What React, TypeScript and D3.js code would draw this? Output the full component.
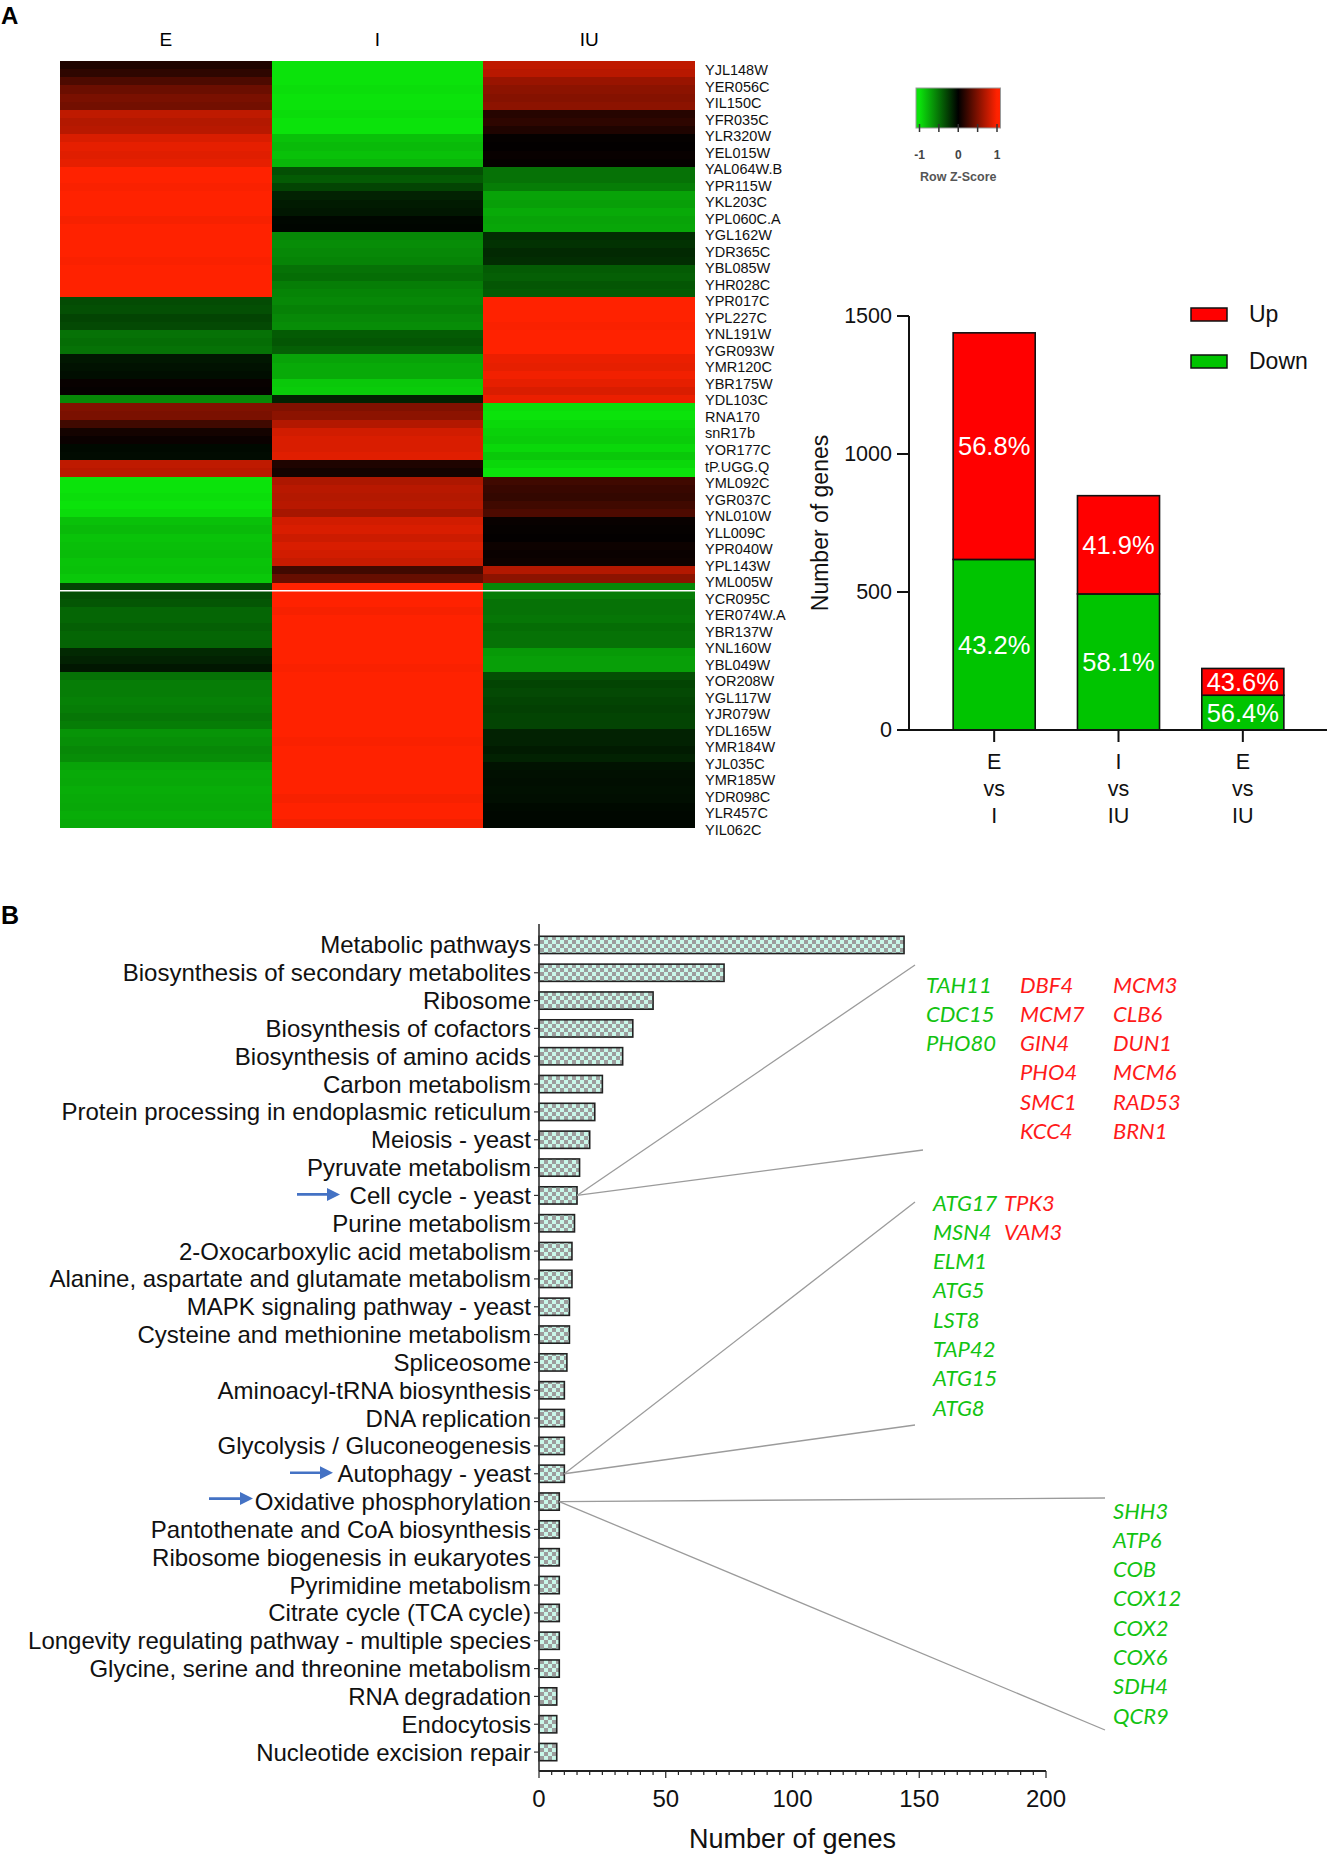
import React from 'react';
import * as d3 from 'd3';

// ---------- Panel A: heatmap ----------
const heatColumns = ['E', 'I', 'IU'];
const zE = [
  0.12, 0.18, 0.3, 0.42, 0.48, 0.45, 0.75, 0.7, 0.72, 0.85, 0.9, 0.88, 0.9,
  1, 1, 0.98, 1, 1, 1, 0.97, 1, 1, 1, 1, 0.98, 1, 1, 1, 1,
  -0.33, -0.35, -0.3, -0.32, -0.5, -0.48, -0.5, -0.1, -0.08, -0.06, 0.03, 0.02, -0.6,
  0.5, 0.48, 0.25, 0.08, 0.04, -0.04, -0.05, 0.75, 0.72,
  -1, -1, -0.98, -1, -0.97, -0.85, -0.82, -0.86, -0.84, -0.83, -0.86, -0.85, -0.88, -0.3,
  -0.35, -0.38, -0.45, -0.45, -0.42, -0.45, -0.44, -0.18, -0.15, -0.1,
  -0.5, -0.55, -0.55, -0.57, -0.55, -0.52, -0.55, -0.65, -0.63, -0.6, -0.62,
  -0.72, -0.75, -0.74, -0.76, -0.75, -0.74, -0.76, -0.75,
];
const zI = [
  -1, -1, -1, -0.98, -1, -1, -0.97, -1, -1, -0.85, -0.82, -0.85, -0.8,
  -0.35, -0.4, -0.3, -0.15, -0.12, -0.1, -0.03, -0.02, -0.6, -0.62, -0.6, -0.58,
  -0.5, -0.48, -0.55, -0.58, -0.6, -0.57, -0.6, -0.62, -0.4, -0.38, -0.42,
  -0.72, -0.75, -0.75, -0.88, -0.9, -0.15, 0.5, 0.55, 0.7, 0.82, 0.85, 0.85, 0.88,
  0.12, 0.08, 0.68, 0.72, 0.7, 0.72, 0.65, 0.82, 0.85, 0.8, 0.85, 0.82, 0.78, 0.25, 0.4,
  1, 1, 1, 0.97, 1, 1, 1, 1, 1, 1, 0.98, 1, 1, 1, 1,
  1, 1, 1, 1, 0.98, 1, 1, 1, 1, 1, 1, 0.97, 1, 1, 0.96,
];
const zIU = [
  0.75, 0.72, 0.6, 0.55, 0.52, 0.55, 0.15, 0.18, 0.12, 0.02, 0.01, 0.03, 0.02,
  -0.5, -0.5, -0.55, -0.72, -0.7, -0.75, -0.72, -0.73, -0.2, -0.22, -0.18, -0.2,
  -0.4, -0.42, -0.38, -0.4, 1, 1, 1, 0.98, 1, 1, 1, 0.92, 0.9, 0.95, 0.9, 0.85, 0.92,
  -0.98, -1, -0.95, -0.92, -0.9, -0.95, -0.88, -0.95, -1,
  0.25, 0.22, 0.2, 0.25, 0.3, 0.03, 0.02, 0.01, 0.05, 0.04, 0.05, 0.7, 0.55, -0.6,
  -0.55, -0.5, -0.5, -0.52, -0.48, -0.5, -0.5, -0.68, -0.7, -0.7,
  -0.35, -0.3, -0.32, -0.3, -0.28, -0.3, -0.3, -0.15, -0.15, -0.12, -0.15,
  -0.08, -0.07, -0.06, -0.07, -0.06, -0.04, -0.03, -0.03,
];
const gapAfterRow = 64;
const geneLabels = [
  'YJL148W', 'YER056C', 'YIL150C', 'YFR035C', 'YLR320W', 'YEL015W', 'YAL064W.B', 'YPR115W',
  'YKL203C', 'YPL060C.A', 'YGL162W', 'YDR365C', 'YBL085W', 'YHR028C', 'YPR017C', 'YPL227C',
  'YNL191W', 'YGR093W', 'YMR120C', 'YBR175W', 'YDL103C', 'RNA170', 'snR17b', 'YOR177C',
  'tP.UGG.Q', 'YML092C', 'YGR037C', 'YNL010W', 'YLL009C', 'YPR040W', 'YPL143W', 'YML005W',
  'YCR095C', 'YER074W.A', 'YBR137W', 'YNL160W', 'YBL049W', 'YOR208W', 'YGL117W', 'YJR079W',
  'YDL165W', 'YMR184W', 'YJL035C', 'YMR185W', 'YDR098C', 'YLR457C', 'YIL062C',
];
const keyTicks = [-1, -0.5, 0, 0.5, 1];
const keyLabels = [-1, 0, 1];

// ---------- Panel A: stacked bars ----------
const compareCats = ['E vs I', 'I vs IU', 'E vs IU'];
const downCounts = [618, 493, 126];
const upCounts = [821, 356, 97];
const downPct = ['43.2%', '58.1%', '56.4%'];
const upPct = ['56.8%', '41.9%', '43.6%'];
const countTicks = [0, 500, 1000, 1500];

// ---------- Panel B: KEGG pathways ----------
const pathways = [
  'Metabolic pathways', 'Biosynthesis of secondary metabolites', 'Ribosome',
  'Biosynthesis of cofactors', 'Biosynthesis of amino acids', 'Carbon metabolism',
  'Protein processing in endoplasmic reticulum', 'Meiosis - yeast', 'Pyruvate metabolism',
  'Cell cycle - yeast', 'Purine metabolism', '2-Oxocarboxylic acid metabolism',
  'Alanine, aspartate and glutamate metabolism', 'MAPK signaling pathway - yeast',
  'Cysteine and methionine metabolism', 'Spliceosome', 'Aminoacyl-tRNA biosynthesis',
  'DNA replication', 'Glycolysis / Gluconeogenesis', 'Autophagy - yeast',
  'Oxidative phosphorylation', 'Pantothenate and CoA biosynthesis',
  'Ribosome biogenesis in eukaryotes', 'Pyrimidine metabolism', 'Citrate cycle (TCA cycle)',
  'Longevity regulating pathway - multiple species', 'Glycine, serine and threonine metabolism',
  'RNA degradation', 'Endocytosis', 'Nucleotide excision repair',
];
const pathwayCounts = [
  144, 73, 45, 37, 33, 25, 22, 20, 16, 15, 14, 13, 13, 12, 12, 11, 10, 10, 10, 10,
  8, 8, 8, 8, 8, 8, 8, 7, 7, 7,
];
const countTicksB = [0, 50, 100, 150, 200];
const minorTicksB = d3.range(0, 201, 5);

const cellCycleDown = ['TAH11', 'CDC15', 'PHO80'];
const cellCycleUpA = ['DBF4', 'MCM7', 'GIN4', 'PHO4', 'SMC1', 'KCC4'];
const cellCycleUpB = ['MCM3', 'CLB6', 'DUN1', 'MCM6', 'RAD53', 'BRN1'];
const autophagyDown = ['ATG17', 'MSN4', 'ELM1', 'ATG5', 'LST8', 'TAP42', 'ATG15', 'ATG8'];
const autophagyUp = ['TPK3', 'VAM3'];
const oxphosDown = ['SHH3', 'ATP6', 'COB', 'COX12', 'COX2', 'COX6', 'SDH4', 'QCR9'];

const ARIAL = 'Liberation Sans, Arial, Helvetica, sans-serif';
const CAL = 'Lato, Carlito, Calibri, sans-serif';
const GREEN_TXT = '#12c312';
const RED_TXT = '#ff1a1a';

function Arrow({ x1, x2, y }: { x1: number; x2: number; y: number }) {
  return (
    <g>
      <line x1={x1} x2={x2 - 10} y1={y} y2={y} stroke="#4472c4" strokeWidth={2.6} />
      <polygon points={`${x2 - 13},${y - 6.5} ${x2},${y} ${x2 - 13},${y + 6.5}`} fill="#4472c4" />
    </g>
  );
}

function GeneList({ names, x, y0, color, step }: { names: string[]; x: number; y0: number; color: string; step: number }) {
  return (
    <g>
      {names.map((n, i) => (
        <text key={n} x={x} y={y0 + i * step} fill={color} fontFamily={CAL} fontStyle="italic" fontSize={22} dominantBaseline="central">
          {n}
        </text>
      ))}
    </g>
  );
}

export default function App() {
  const zCols = [zE, zI, zIU];
  const nRows = zE.length;
  const hx = d3.scaleBand<string>().domain(heatColumns).range([60, 695]);
  const hy = d3.scaleBand<number>().domain(d3.range(nRows)).range([61, 827]);
  const color = d3
    .scaleLinear<string>()
    .domain([-1, 0, 1])
    .range(['#0be30b', '#000000', '#ff2200'])
    .clamp(true);
  const labY = d3.scaleBand<string>().domain(geneLabels).range([62, 838]);

  const keyX = d3.scaleLinear().domain([-1, 1]).range([919.5, 997]);
  const keyLo = -1.09;
  const keyHi = 1.09;
  const keyStops = [-1.09, -1, -0.5, 0, 0.5, 1, 1.09];

  const bx = d3.scaleBand<string>().domain(compareCats).range([932, 1305]).paddingInner(0.34).paddingOuter(0.17);
  const by = d3.scaleLinear().domain([0, 1500]).range([730, 316]);
  const axisAX = 909;

  const py = d3.scaleBand<string>().domain(pathways).range([931, 1766]).paddingInner(0.38).paddingOuter(0.19);
  const px = d3.scaleLinear().domain([0, 200]).range([539, 1046]);
  const pyc = (name: string) => (py(name) as number) + py.bandwidth() / 2;
  const endOf = (name: string) => px(pathwayCounts[pathways.indexOf(name)]);

  const ccY = pyc('Cell cycle - yeast');
  const apY = pyc('Autophagy - yeast');
  const oxY = pyc('Oxidative phosphorylation');

  return (
    <svg
      width={1328}
      height={1856}
      viewBox="0 0 1328 1856"
      style={{ position: 'absolute', left: 0, top: 0, background: '#fff' }}
    >
      <defs>
        <linearGradient id="zkey" x1="0" x2="1" y1="0" y2="0">
          {keyStops.map((v) => (
            <stop key={v} offset={(v - keyLo) / (keyHi - keyLo)} stopColor={color(v)} />
          ))}
        </linearGradient>
        <pattern id="checker" width={8} height={8} patternUnits="userSpaceOnUse">
          <rect width={8} height={8} fill="#c9f7e9" />
          <rect width={4} height={4} fill="#9d9d9d" />
          <rect x={4} y={4} width={4} height={4} fill="#9d9d9d" />
        </pattern>
      </defs>

      {/* Panel letters */}
      <text x={1} y={24} fontFamily={ARIAL} fontWeight="bold" fontSize={24}>A</text>
      <text x={1} y={924} fontFamily={ARIAL} fontWeight="bold" fontSize={25}>B</text>

      {/* Heatmap */}
      {heatColumns.map((c) => (
        <text
          key={c}
          x={(hx(c) as number) + hx.bandwidth() / 2}
          y={39}
          textAnchor="middle"
          dominantBaseline="central"
          fontFamily={ARIAL}
          fontSize={19}
        >
          {c}
        </text>
      ))}
      <g shapeRendering="crispEdges">
        {zCols.map((col, ci) =>
          col.map((v, ri) => (
            <rect
              key={`${ci}-${ri}`}
              x={hx(heatColumns[ci])}
              y={hy(ri)}
              width={hx.bandwidth()}
              height={hy.bandwidth() + 0.6}
              fill={color(v)}
            />
          ))
        )}
      </g>
      <line
        x1={hx('E')}
        x2={(hx('IU') as number) + hx.bandwidth()}
        y1={hy(gapAfterRow + 1)}
        y2={hy(gapAfterRow + 1)}
        stroke="#fff"
        strokeWidth={1.6}
      />
      {geneLabels.map((g) => (
        <text
          key={g}
          x={705}
          y={(labY(g) as number) + labY.bandwidth() / 2}
          dominantBaseline="central"
          fontFamily={ARIAL}
          fontSize={14.5}
          fill="#111"
        >
          {g}
        </text>
      ))}

      {/* Color key */}
      <rect x={keyX(keyLo)} y={88} width={keyX(keyHi) - keyX(keyLo)} height={40} fill="url(#zkey)" stroke="#999" strokeWidth={1} />
      {keyTicks.map((t) => (
        <line key={t} x1={keyX(t)} x2={keyX(t)} y1={124} y2={132} stroke="#333" strokeWidth={1.5} />
      ))}
      {keyLabels.map((t) => (
        <text key={t} x={keyX(t)} y={155} textAnchor="middle" dominantBaseline="central" fontFamily={ARIAL} fontSize={12} fill="#444" fontWeight="bold">
          {t}
        </text>
      ))}
      <text x={keyX(0)} y={177} textAnchor="middle" dominantBaseline="central" fontFamily={ARIAL} fontSize={12.5} fill="#555" fontWeight="bold">
        Row Z-Score
      </text>

      {/* Stacked bar chart */}
      {compareCats.map((c, i) => {
        const x = bx(c) as number;
        const w = bx.bandwidth();
        const d = downCounts[i];
        const u = upCounts[i];
        return (
          <g key={c}>
            <rect x={x} y={by(d)} width={w} height={by(0) - by(d)} fill="#00c400" stroke="#111" strokeWidth={1.6} />
            <rect x={x} y={by(d + u)} width={w} height={by(d) - by(d + u)} fill="#ff0000" stroke="#111" strokeWidth={1.6} />
            <text x={x + w / 2} y={(by(0) + by(d)) / 2} textAnchor="middle" dominantBaseline="central" fill="#fff" fontFamily={ARIAL} fontSize={25.5}>
              {downPct[i]}
            </text>
            <text x={x + w / 2} y={(by(d) + by(d + u)) / 2} textAnchor="middle" dominantBaseline="central" fill="#fff" fontFamily={ARIAL} fontSize={25.5}>
              {upPct[i]}
            </text>
            <line x1={x + w / 2} x2={x + w / 2} y1={by(0)} y2={by(0) + 12} stroke="#111" strokeWidth={2} />
            {c.split(' ').map((part, k) => (
              <text key={k} x={x + w / 2} y={762 + k * 27} textAnchor="middle" dominantBaseline="central" fontFamily={ARIAL} fontSize={21.5} fill="#111">
                {part}
              </text>
            ))}
          </g>
        );
      })}
      <line x1={axisAX} x2={axisAX} y1={by(1500)} y2={by(0)} stroke="#111" strokeWidth={2} />
      <line x1={axisAX} x2={1327} y1={by(0)} y2={by(0)} stroke="#111" strokeWidth={2} />
      {countTicks.map((t) => (
        <g key={t}>
          <line x1={axisAX - 12} x2={axisAX} y1={by(t)} y2={by(t)} stroke="#111" strokeWidth={2} />
          <text x={axisAX - 17} y={by(t)} textAnchor="end" dominantBaseline="central" fontFamily={ARIAL} fontSize={21.5} fill="#111">
            {t}
          </text>
        </g>
      ))}
      <text
        transform={`translate(820,${(by(1500) + by(0)) / 2}) rotate(-90)`}
        textAnchor="middle"
        dominantBaseline="central"
        fontFamily={ARIAL}
        fontSize={23}
        fill="#111"
      >
        Number of genes
      </text>
      {/* Legend */}
      <rect x={1191} y={308} width={36} height={13} fill="#ff0000" stroke="#111" strokeWidth={1.5} />
      <text x={1249} y={314} dominantBaseline="central" fontFamily={ARIAL} fontSize={23} fill="#111">Up</text>
      <rect x={1191} y={355} width={36} height={13} fill="#00c400" stroke="#111" strokeWidth={1.5} />
      <text x={1249} y={361} dominantBaseline="central" fontFamily={ARIAL} fontSize={23} fill="#111">Down</text>

      {/* Panel B bars */}
      {pathways.map((p, i) => (
        <g key={p}>
          <rect
            x={px(0)}
            y={py(p)}
            width={px(pathwayCounts[i]) - px(0)}
            height={py.bandwidth()}
            fill="url(#checker)"
            stroke="#222"
            strokeWidth={1.6}
          />
          <line x1={px(0) - 5} x2={px(0)} y1={pyc(p)} y2={pyc(p)} stroke="#333" strokeWidth={1.2} />
          <text x={531} y={pyc(p)} textAnchor="end" dominantBaseline="central" fontFamily={ARIAL} fontSize={24} fill="#111">
            {p}
          </text>
        </g>
      ))}
      <line x1={px(0)} x2={px(0)} y1={924} y2={1771} stroke="#333" strokeWidth={1.6} />
      <line x1={px(0)} x2={px(200)} y1={1771} y2={1771} stroke="#222" strokeWidth={2.2} />
      {minorTicksB.map((t) => (
        <line key={t} x1={px(t)} x2={px(t)} y1={1771} y2={t % 50 === 0 ? 1778 : 1775} stroke="#222" strokeWidth={1.2} />
      ))}
      {countTicksB.map((t) => (
        <text key={t} x={px(t)} y={1798} textAnchor="middle" dominantBaseline="central" fontFamily={ARIAL} fontSize={24} fill="#111">
          {t}
        </text>
      ))}
      <text x={(px(0) + px(200)) / 2} y={1839} textAnchor="middle" dominantBaseline="central" fontFamily={ARIAL} fontSize={27} fill="#111">
        Number of genes
      </text>

      {/* Arrows */}
      <Arrow x1={297} x2={340} y={ccY - 1} />
      <Arrow x1={290} x2={333} y={apY - 1} />
      <Arrow x1={209} x2={253} y={oxY - 3} />

      {/* Callout lines */}
      <g stroke="#9b9b9b" strokeWidth={1.3} fill="none">
        <line x1={endOf('Cell cycle - yeast')} y1={ccY} x2={915} y2={965} />
        <line x1={endOf('Cell cycle - yeast')} y1={ccY} x2={923} y2={1150} />
        <line x1={endOf('Autophagy - yeast')} y1={apY} x2={915} y2={1202} />
        <line x1={endOf('Autophagy - yeast')} y1={apY} x2={915} y2={1425} />
        <line x1={endOf('Oxidative phosphorylation')} y1={oxY} x2={1105} y2={1498} />
        <line x1={endOf('Oxidative phosphorylation')} y1={oxY} x2={1105} y2={1730} />
      </g>

      {/* Gene lists */}
      <GeneList names={cellCycleDown} x={926} y0={984} color={GREEN_TXT} step={29.3} />
      <GeneList names={cellCycleUpA} x={1020} y0={984} color={RED_TXT} step={29.3} />
      <GeneList names={cellCycleUpB} x={1113} y0={984} color={RED_TXT} step={29.3} />
      <GeneList names={autophagyDown} x={933} y0={1202} color={GREEN_TXT} step={29.3} />
      <GeneList names={autophagyUp} x={1004} y0={1202} color={RED_TXT} step={29.3} />
      <GeneList names={oxphosDown} x={1113} y0={1510} color={GREEN_TXT} step={29.3} />
    </svg>
  );
}
